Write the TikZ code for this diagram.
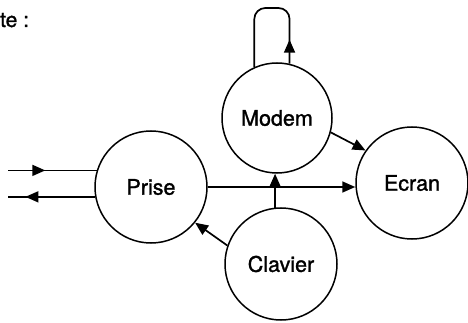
\documentclass[tikz,border=0pt]{standalone}
\usepackage{fontspec}
\setmainfont{TeX Gyre Heros}
\newfontfamily\unitfont[FakeBold=1.3]{TeX Gyre Heros}
\usetikzlibrary{arrows.meta,calc,decorations.markings}

\tikzset{
  unit/.style={draw, circle, line width=1.5pt, inner sep=0pt, font=\unitfont\fontsize{21.5}{25}\selectfont},
  flow/.style={line width=1.7pt, -{Triangle[length=13pt,width=11pt]}},
  midflow/.style={line width=1.7pt, postaction={decorate},
    decoration={markings, mark=at position #1 with {\arrow{Triangle[length=13pt,width=11pt]}}}},
}

\begin{document}
\begin{tikzpicture}[x=1pt, y=-1pt]
  \useasboundingbox (0,0) rectangle (468,323);
  \node[anchor=base west, inner sep=0pt, font=\unitfont\fontsize{21}{25}\selectfont] (intro) at (0,27) {te :};
  % the four units
  \node[unit, minimum size=112pt] (Prise)   at (151,187) {Prise};
  \node[unit, minimum size=110pt] (Modem)   at (277,118) {Modem};
  \node[unit, minimum size=112pt] (Ecran)   at (412,183) {Ecran};
  \node[unit, minimum size=112pt] (Clavier) at (281,264) {Clavier};
  % line ends on the left
  \coordinate (rim) at (8,0);
  \coordinate (lineIn)  at (Prise.163 -| rim);
  \coordinate (lineOut) at (Prise.190 -| rim);
  \coordinate (loopTop) at (272,8);
  % connectors
  \draw[midflow=0.42] (lineIn) -- (Prise.163);
  \draw[midflow=0.8] (Prise.190) -- (lineOut);
  \draw[flow] (Prise.east) -- (Prise.east -| Ecran.west);
  \draw[flow] (Clavier.96) -- (Clavier.96 |- Modem.south);
  \draw[flow] (Modem.-15) -- (Ecran.145);
  \draw[flow] (Clavier.161) -- (Prise.-39);
  % loop on the modem
  \draw[midflow=24pt, rounded corners=11pt] (Modem.77) -- (Modem.77 |- loopTop)
    -- (Modem.114 |- loopTop) -- (Modem.114);
\end{tikzpicture}
\end{document}
